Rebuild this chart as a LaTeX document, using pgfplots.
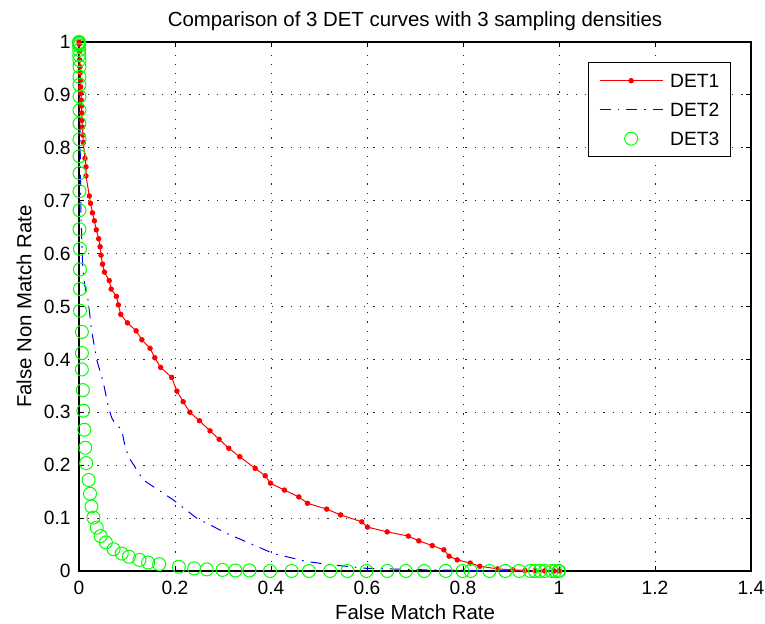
\documentclass[border=0pt]{standalone}
\usepackage{pgfplots}
\pgfplotsset{compat=1.18}
\usepackage{fontspec}
\setmainfont{Liberation Sans}
\definecolor{mred}{RGB}{255,0,0}
\definecolor{mblue}{RGB}{0,0,255}
\definecolor{mgreen}{RGB}{0,255,0}
\begin{document}
\fontsize{10.2pt}{12pt}\selectfont
\begin{tikzpicture}
\path[use as bounding box] (-39.5pt,-26.5pt) rectangle (343pt,285.5pt);
\begin{axis}[
  at={(0pt,0pt)}, anchor=south west,
  scale only axis, width=336pt, height=264.5pt,
  xmin=0, xmax=1.4, ymin=0, ymax=1,
  xtick={0,0.2,0.4,0.6,0.8,1,1.2,1.4},
  xticklabels={0,0.2,0.4,0.6,0.8,1,1.2,1.4},
  ytick={0,0.1,0.2,0.3,0.4,0.5,0.6,0.7,0.8,0.9,1},
  yticklabels={0,0.1,0.2,0.3,0.4,0.5,0.6,0.7,0.8,0.9,1},
  tick align=inside, tick pos=both, major tick length=2.5pt,
  tick style={black, line width=0.5pt},
  axis line style={black, line width=0.6pt},
  grid=major,
  major grid style={black!85, line width=0.5pt, dash pattern=on 0.6pt off 4pt},
  tick label style={font=\fontsize{9.6pt}{11pt}\selectfont},
  xticklabel style={anchor=base, yshift=-12pt, inner sep=0pt},
  yticklabel style={anchor=east, xshift=-4pt, inner sep=0pt},
  title={Comparison of 3 DET curves with 3 sampling densities},
  title style={at={(axis description cs:0.5,1.0057)}, anchor=base, inner sep=0pt},
  xlabel={False Match Rate},
  xlabel style={at={(axis description cs:0.5,-0.0917)}, anchor=base, inner sep=0pt},
  ylabel={False Non Match Rate},
  ylabel style={at={(axis description cs:-0.0707,0.5)}, anchor=base, inner sep=0pt},
  clip=false,
  legend image code/.code={\draw[mark repeat=2,mark phase=2,#1] plot coordinates {(0pt,0pt) (15.75pt,0pt) (31.5pt,0pt)};},
  legend style={at={(0.970,0.962)}, anchor=north east, draw=black, line width=0.6pt, fill=white,
    inner xsep=5.5pt, inner ysep=5.65pt, row sep=7.8pt,
    font=\fontsize{9.6pt}{11pt}\selectfont,
    nodes={inner sep=0pt, text height=6.7pt, text depth=0pt},
    /tikz/every odd column/.append style={column sep=3.5pt}},
  legend cell align=left,
]
\addplot[mred, line width=0.5pt, mark=*, mark size=1.1pt, mark options={solid, fill=mred, draw=mred}] coordinates {
(0,1) (0.0006,0.996) (0.001,0.982) (0.0015,0.966) (0.002,0.953) (0.0025,0.942)
(0.003,0.928) (0.0035,0.915) (0.004,0.903) (0.0045,0.890) (0.005,0.879)
(0.0055,0.866) (0.006,0.852) (0.007,0.839) (0.008,0.824) (0.009,0.810)
(0.0125,0.780) (0.0146,0.764) (0.0146,0.747) (0.0215,0.709) (0.024,0.695)
(0.028,0.677) (0.032,0.662) (0.036,0.645) (0.041,0.628) (0.044,0.613)
(0.046,0.597) (0.049,0.580) (0.053,0.565) (0.063,0.549) (0.067,0.533)
(0.078,0.519) (0.082,0.503) (0.087,0.485) (0.101,0.469) (0.119,0.454)
(0.131,0.437) (0.148,0.421) (0.158,0.403) (0.170,0.385) (0.193,0.366)
(0.204,0.340) (0.217,0.320) (0.231,0.300) (0.251,0.284) (0.273,0.265)
(0.292,0.249) (0.312,0.232) (0.335,0.216) (0.367,0.194) (0.388,0.180)
(0.399,0.166) (0.428,0.153) (0.458,0.140) (0.476,0.128) (0.516,0.117)
(0.545,0.106) (0.589,0.093) (0.601,0.083) (0.642,0.074) (0.686,0.066)
(0.708,0.057) (0.736,0.048) (0.760,0.040) (0.771,0.028) (0.788,0.021)
(0.815,0.015) (0.835,0.009) (0.872,0.004) (0.904,0.002) (0.929,0.001)
(0.950,0.0005) (0.970,0.0002) (0.990,0.0001) (1,0)
};
\addlegendentry{DET1}
\addplot[mblue, line width=0.5pt, dash pattern=on 5.5pt off 3.5pt on 0.8pt off 3.5pt] coordinates {
(0,1) (0.001,0.95) (0.002,0.85) (0.003,0.75) (0.004,0.68) (0.006,0.62)
(0.008,0.569) (0.012,0.540) (0.019,0.512) (0.026,0.456) (0.037,0.399)
(0.051,0.355) (0.061,0.311) (0.068,0.290) (0.075,0.279) (0.089,0.267)
(0.095,0.240) (0.103,0.216) (0.134,0.172) (0.197,0.134) (0.245,0.100)
(0.308,0.071) (0.349,0.055) (0.405,0.033) (0.474,0.018) (0.523,0.012)
(0.599,0.005) (0.730,0.002) (0.850,0.001) (1,0)
};
\addlegendentry{DET2}
\addplot[only marks, mgreen, mark=o, mark size=3.25pt, mark options={line width=0.5pt}] coordinates {
(0,1) (0,0.999) (0.0003,0.998) (0,0.996) (0.0005,0.993) (0.0005,0.985)
(0.0005,0.975) (0.0008,0.966) (0.001,0.953) (0.001,0.934) (0.001,0.919)
(0.001,0.897) (0.001,0.871) (0.001,0.846) (0.001,0.816) (0.001,0.784)
(0.001,0.752) (0.001,0.718) (0.001,0.682) (0.001,0.646) (0.002,0.609)
(0.002,0.570) (0.002,0.533) (0.002,0.492) (0.006,0.452) (0.006,0.412)
(0.006,0.381) (0.008,0.342) (0.009,0.303) (0.011,0.267) (0.013,0.233)
(0.015,0.204) (0.020,0.172) (0.023,0.146) (0.026,0.122) (0.030,0.101)
(0.037,0.082) (0.045,0.066) (0.056,0.054) (0.072,0.041) (0.089,0.033)
(0.104,0.027) (0.126,0.021) (0.144,0.016) (0.167,0.013) (0.208,0.008)
(0.240,0.005) (0.266,0.003) (0.299,0.002) (0.326,0.001) (0.355,0.001)
(0.398,0) (0.443,0) (0.479,0) (0.523,0) (0.559,0) (0.599,0) (0.642,0)
(0.681,0) (0.719,0) (0.764,0) (0.799,0) (0.816,0) (0.855,0) (0.888,0)
(0.917,0) (0.940,0) (0.950,0) (0.960,0) (0.971,0) (0.985,0) (0.992,0)
(0.999,0) (1,0)
};
\addlegendentry{DET3}
\end{axis}
\end{tikzpicture}
\end{document}
